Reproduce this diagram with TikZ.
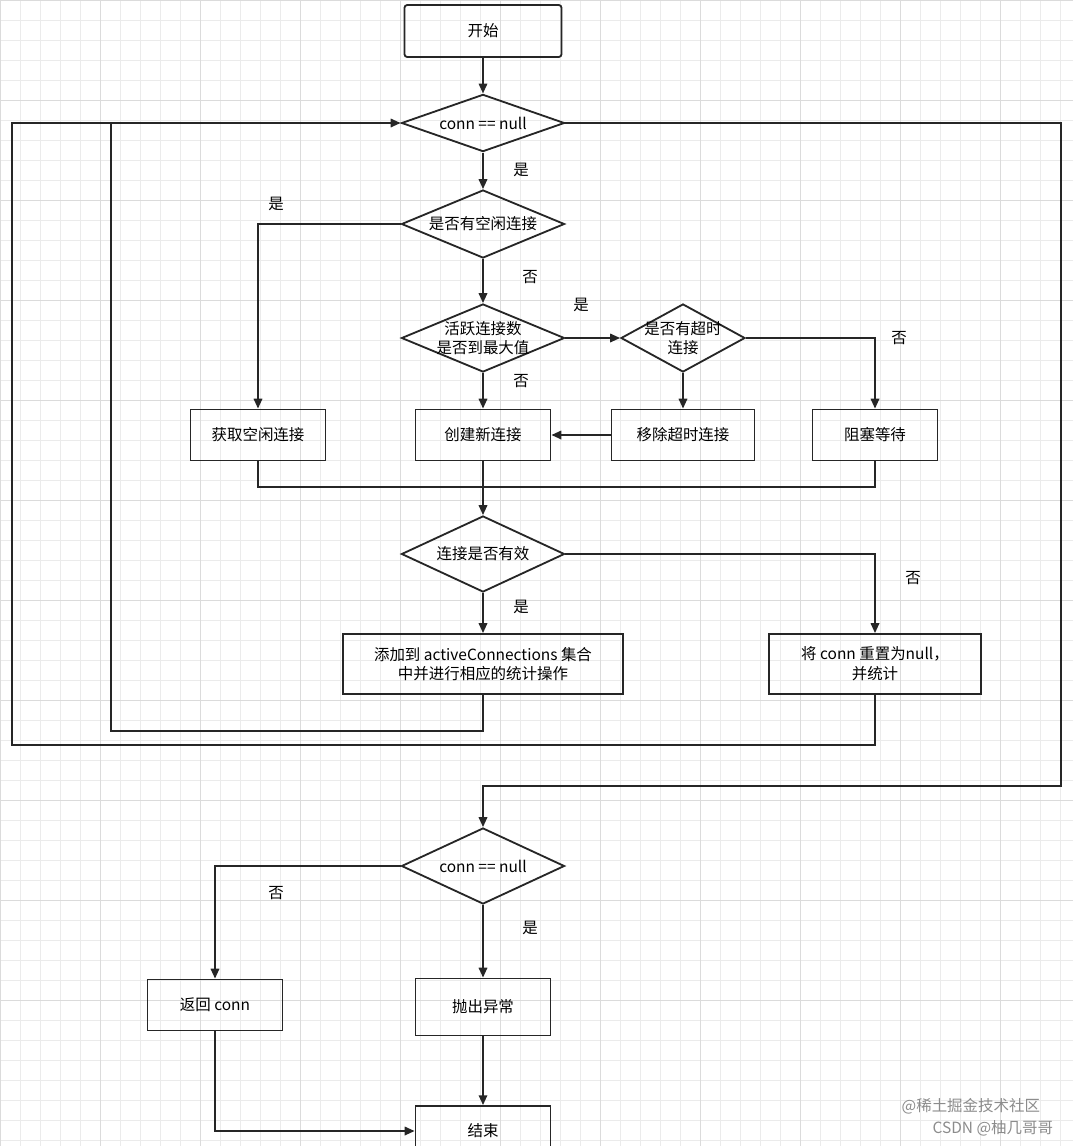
\documentclass[tikz,border=0pt]{standalone}
\usepackage{fontspec}
\setmainfont{Noto Sans CJK SC}
\usetikzlibrary{arrows.meta,shapes.geometric}

\tikzset{
  line/.style={draw=black!85,line width=1.3pt},
  arr/.style={line,-{Triangle[length=7pt,width=6pt]}},
  box/.style={line,rectangle,inner sep=0pt,font=\fontsize{11}{14}\selectfont,align=center},
  dia/.style={line,diamond,inner sep=0pt,minimum width=4.075cm,label={[font=\fontsize{11}{14}\selectfont,align=center]center:#1}},
  lbl/.style={font=\fontsize{11}{13}\selectfont}
}

\begin{document}
\begin{tikzpicture}[x=0.025cm,y=-0.025cm]
  \useasboundingbox (0,0) rectangle (1073,1146);
  \clip (0,0) rectangle (1073,1146);
  \fill[white] (0,0) rectangle (1073,1146);
  % background grid
  \foreach \g in {0,20,...,1080} {
    \draw[black!8,line width=0.4pt] (\g,0) -- (\g,1146);
  }
  \foreach \g in {0,20,...,1140} {
    \draw[black!8,line width=0.4pt] (0,\g) -- (1073,\g);
  }
  \foreach \g in {0,100,...,1000} {
    \draw[black!14,line width=0.5pt] (\g,0) -- (\g,1146);
    \draw[black!14,line width=0.5pt] (0,\g) -- (1073,\g);
  }

  % nodes
  \node[box,rounded corners=2pt,minimum width=3.925cm,minimum height=1.3cm](start)at(483,31){开始};
  \node[dia={conn == null},minimum height=1.43cm](d1)at(483,123){};
  \node[dia={是否有空闲连接},minimum height=1.7cm](d2)at(483,224){};
  \node[dia={活跃连接数\\是否到最大值},minimum height=1.7cm](d3)at(483,338){};
  \node[dia={是否有超时\\连接},minimum width=3.1cm,minimum height=1.7cm](d4)at(683,338){};
  \node[box,minimum width=3.375cm,minimum height=1.275cm](idle)at(258,435){获取空闲连接};
  \node[box,minimum width=3.375cm,minimum height=1.275cm](create)at(483,435){创建新连接};
  \node[box,minimum width=3.575cm,minimum height=1.275cm](remove)at(683,435){移除超时连接};
  \node[box,minimum width=3.125cm,minimum height=1.275cm](block)at(875,435){阻塞等待};
  \node[dia={连接是否有效},minimum height=1.9cm](d5)at(483,554){};
  \node[box,minimum width=7cm,minimum height=1.5cm](add)at(483,664){添加到 activeConnections 集合\\中并进行相应的统计操作};
  \node[box,minimum width=5.3cm,minimum height=1.5cm](reset)at(875,664){将 conn 重置为null，\\并统计};
  \node[dia={conn == null},minimum height=1.9cm](d6)at(483,866){};
  \node[box,minimum width=3.375cm,minimum height=1.275cm](ret)at(215,1005){返回 conn};
  \node[box,minimum width=3.375cm,minimum height=1.425cm](throw)at(483,1007){抛出异常};
  \node[box,minimum width=3.375cm,minimum height=1.25cm](end)at(483,1131){结束};

  % labels
  \node[lbl](y1)at(521,170){是};
  \node[lbl](y2)at(276,204){是};
  \node[lbl](n2)at(530,277){否};
  \node[lbl](y3)at(581,305){是};
  \node[lbl](n3)at(521,381){否};
  \node[lbl](n4)at(899,338){否};
  \node[lbl](y5)at(521,607){是};
  \node[lbl](n5)at(913,578){否};
  \node[lbl](n6)at(276,893){否};
  \node[lbl](y6)at(530,928){是};

  % connectors
  \draw[arr](start)--(d1);
  \draw[arr](d1)--(d2);
  \draw[arr](d2)--(d3);
  \draw[arr](d2.west)-|(idle.north);
  \draw[arr](d3)--(create);
  \draw[arr](d3.east)--(d4.west);
  \draw[arr](d4)--(remove);
  \draw[arr](d4.east)-|(block.north);
  \draw[arr](remove)--(create);
  \draw[line](idle.south)|-(483,487);
  \draw[line](block.south)|-(483,487);
  \draw[arr](create)--(d5);
  \draw[arr](d5)--(add);
  \draw[arr](d5.east)-|(reset.north);
  \draw[arr](add.south)--(483,731)-|(111,123)--(d1.west);
  \draw[line](reset.south)--(875,745)-|(12,123)--(111,123);
  \draw[arr](d1.east)--(1061,123)|-(483,786)--(d6.north);
  \draw[arr](d6.west)-|(ret.north);
  \draw[arr](d6)--(throw);
  \draw[arr](throw)--(end);
  \draw[arr](ret.south)|-(end.west);

  % watermark
  \node[font=\fontsize{11}{13}\selectfont,text=black!45,anchor=east](wm1)at(1045,1106){@稀土掘金技术社区};
  \node[font=\fontsize{11}{13}\selectfont,text=black!45,anchor=east](wm2)at(1058,1128){CSDN @柚几哥哥};
\end{tikzpicture}
\end{document}
